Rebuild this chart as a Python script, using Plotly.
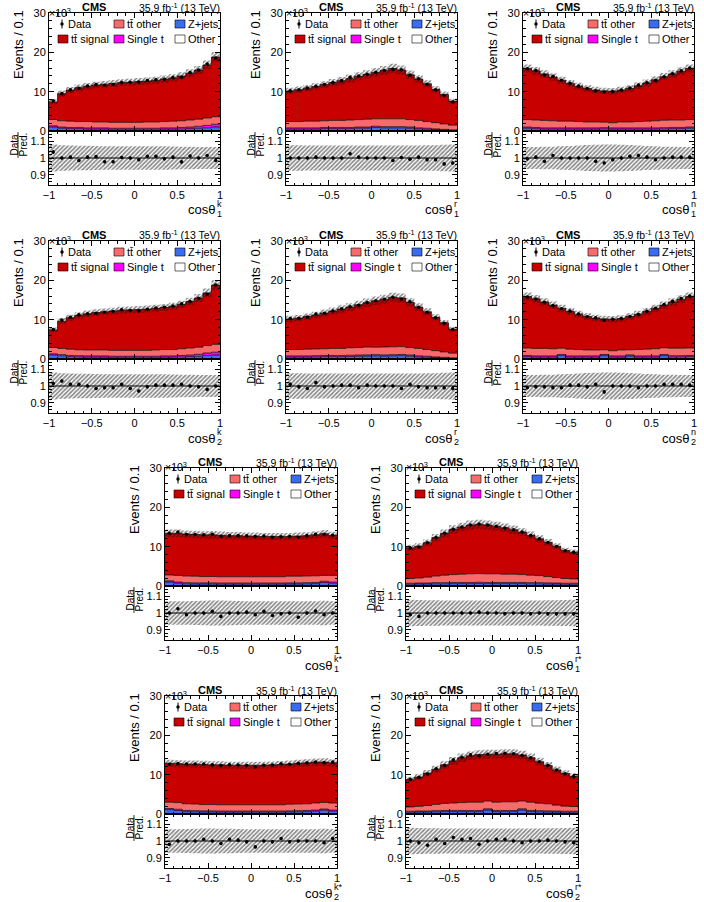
import numpy as np
import plotly.graph_objects as go

W, H = 704, 902
FONT = "Liberation Sans, Arial, Helvetica, sans-serif"

bin_edges = [-1.0, -0.9, -0.8, -0.7, -0.6, -0.5, -0.4, -0.3, -0.2, -0.1, 0.0,
             0.1, 0.2, 0.3, 0.4, 0.5, 0.6, 0.7, 0.8, 0.9, 1.0]
bin_centers = [-0.95, -0.85, -0.75, -0.65, -0.55, -0.45, -0.35, -0.25, -0.15, -0.05,
               0.05, 0.15, 0.25, 0.35, 0.45, 0.55, 0.65, 0.75, 0.85, 0.95]
x_ticks = [-1, -0.5, 0, 0.5, 1]

# ---------------- values (x10^3 events) ----------------
# cos theta_1^k
total_k1 = [7.4, 9.5, 10.4, 11.0, 11.4, 11.7, 11.9, 12.1, 12.3, 12.4, 12.6, 12.7, 12.9, 13.2, 13.5, 14.0, 14.7, 15.5, 16.8, 18.8]
ttother_k1 = [1.6, 1.6, 1.6, 1.5, 1.6, 1.5, 1.5, 1.5, 1.5, 1.5, 1.5, 1.6, 1.6, 1.6, 1.7, 1.7, 1.8, 1.8, 1.9, 1.9]
singlet_k1 = [0.30, 0.30, 0.30, 0.30, 0.30, 0.30, 0.30, 0.25, 0.25, 0.25, 0.25, 0.25, 0.25, 0.30, 0.30, 0.35, 0.40, 0.50, 0.60, 0.70]
zjets_k1 = [0.90, 0.60, 0.50, 0.50, 0.40, 0.40, 0.40, 0.35, 0.35, 0.35, 0.35, 0.35, 0.35, 0.40, 0.40, 0.45, 0.50, 0.60, 0.70, 0.90]
other_k1 = [0.12, 0.10, 0.10, 0.10, 0.10, 0.10, 0.10, 0.10, 0.10, 0.10, 0.10, 0.10, 0.10, 0.10, 0.10, 0.10, 0.10, 0.10, 0.11, 0.12]
ratio_k1 = [1.035, 1.000, 1.005, 0.985, 1.005, 1.008, 0.978, 0.978, 1.003, 1.000, 0.990, 1.010, 1.010, 0.995, 1.005, 0.977, 1.012, 1.000, 1.015, 0.985]
unc_k1 = [0.080, 0.076, 0.074, 0.073, 0.072, 0.071, 0.070, 0.070, 0.070, 0.070, 0.070, 0.070, 0.069, 0.069, 0.068, 0.067, 0.066, 0.065, 0.065, 0.065]

# cos theta_1^r
total_r1 = [10.2, 10.5, 10.9, 11.3, 11.8, 12.3, 12.8, 13.3, 13.9, 14.4, 14.9, 15.4, 15.9, 15.5, 14.3, 13.2, 12.0, 10.6, 9.3, 7.6]
ttother_r1 = [1.6, 1.6, 1.7, 1.7, 1.7, 1.8, 1.8, 1.9, 1.9, 2.0, 1.9, 2.0, 2.0, 2.0, 1.9, 1.9, 1.7, 1.6, 1.4, 1.2]
singlet_r1 = [0.30, 0.30, 0.30, 0.30, 0.30, 0.30, 0.30, 0.30, 0.30, 0.30, 0.30, 0.30, 0.30, 0.30, 0.30, 0.25, 0.25, 0.18, 0.13, 0.10]
zjets_r1 = [0.40, 0.40, 0.40, 0.40, 0.50, 0.50, 0.50, 0.50, 0.60, 0.60, 0.80, 0.70, 0.70, 0.70, 0.60, 0.45, 0.35, 0.25, 0.20, 0.12]
other_r1 = [0.10, 0.10, 0.10, 0.10, 0.10, 0.10, 0.10, 0.10, 0.10, 0.10, 0.10, 0.10, 0.10, 0.10, 0.10, 0.10, 0.10, 0.09, 0.08, 0.06]
ratio_r1 = [1.000, 1.000, 1.000, 1.005, 1.000, 1.000, 1.000, 1.025, 1.005, 1.000, 1.000, 1.000, 0.985, 1.003, 0.993, 1.005, 0.990, 0.990, 0.965, 0.970]
unc_r1 = [0.075, 0.075, 0.074, 0.074, 0.074, 0.074, 0.074, 0.074, 0.074, 0.074, 0.074, 0.074, 0.074, 0.074, 0.074, 0.074, 0.075, 0.076, 0.078, 0.080]

# cos theta_1^n
total_n1 = [15.9, 15.3, 14.5, 13.7, 12.9, 12.1, 11.4, 10.8, 10.4, 10.2, 10.1, 10.4, 10.8, 11.5, 12.2, 13.0, 13.8, 14.5, 15.2, 15.9]
ttother_n1 = [1.9, 1.9, 1.9, 1.8, 1.7, 1.7, 1.6, 1.5, 1.5, 1.4, 1.3, 1.5, 1.5, 1.6, 1.7, 1.8, 1.9, 1.9, 1.9, 1.9]
singlet_n1 = [0.30, 0.30, 0.30, 0.30, 0.30, 0.30, 0.30, 0.30, 0.30, 0.30, 0.30, 0.30, 0.30, 0.30, 0.30, 0.30, 0.30, 0.30, 0.30, 0.30]
zjets_n1 = [0.60, 0.50, 0.40, 0.40, 0.40, 0.40, 0.40, 0.40, 0.40, 0.45, 0.40, 0.40, 0.40, 0.40, 0.40, 0.40, 0.45, 0.50, 0.50, 0.60]
other_n1 = [0.10, 0.10, 0.10, 0.10, 0.10, 0.10, 0.10, 0.10, 0.10, 0.10, 0.10, 0.10, 0.10, 0.10, 0.10, 0.10, 0.10, 0.10, 0.10, 0.10]
ratio_n1 = [0.995, 1.005, 0.980, 1.015, 1.000, 1.000, 1.000, 1.000, 0.980, 0.970, 0.990, 1.000, 1.010, 1.015, 1.005, 0.990, 1.000, 1.005, 1.005, 1.005]
unc_n1 = [0.065, 0.065, 0.066, 0.067, 0.069, 0.071, 0.074, 0.077, 0.079, 0.080, 0.080, 0.079, 0.077, 0.074, 0.071, 0.069, 0.067, 0.066, 0.065, 0.065]

# cos theta_2^k
total_k2 = [7.4, 9.6, 10.5, 11.1, 11.5, 11.8, 12.0, 12.2, 12.4, 12.5, 12.6, 12.7, 12.9, 13.1, 13.4, 13.9, 14.6, 15.5, 16.8, 18.8]
ttother_k2 = [1.6, 1.6, 1.6, 1.5, 1.5, 1.5, 1.5, 1.5, 1.5, 1.5, 1.5, 1.5, 1.6, 1.6, 1.6, 1.7, 1.8, 1.8, 1.9, 2.0]
singlet_k2 = [0.30, 0.30, 0.30, 0.30, 0.30, 0.30, 0.30, 0.25, 0.25, 0.25, 0.25, 0.25, 0.25, 0.30, 0.30, 0.35, 0.40, 0.50, 0.60, 0.70]
zjets_k2 = [0.90, 0.70, 0.50, 0.45, 0.40, 0.40, 0.40, 0.35, 0.35, 0.35, 0.35, 0.35, 0.35, 0.40, 0.40, 0.45, 0.50, 0.60, 0.80, 0.90]
other_k2 = [0.12, 0.10, 0.10, 0.10, 0.10, 0.10, 0.10, 0.10, 0.10, 0.10, 0.10, 0.10, 0.10, 0.10, 0.10, 0.10, 0.10, 0.10, 0.11, 0.12]
ratio_k2 = [1.015, 1.030, 1.010, 1.010, 1.000, 0.985, 0.990, 0.990, 1.010, 0.985, 0.970, 0.995, 1.005, 1.005, 1.005, 1.010, 1.000, 0.995, 0.980, 1.000]
unc_k2 = [0.080, 0.076, 0.074, 0.073, 0.072, 0.071, 0.070, 0.070, 0.070, 0.070, 0.070, 0.070, 0.069, 0.069, 0.068, 0.067, 0.066, 0.065, 0.065, 0.065]

# cos theta_2^r
total_r2 = [10.2, 10.4, 10.8, 11.2, 11.7, 12.2, 12.7, 13.2, 13.8, 14.3, 14.8, 15.2, 15.7, 15.5, 14.4, 13.2, 12.0, 10.6, 9.2, 7.6]
ttother_r2 = [1.6, 1.6, 1.7, 1.7, 1.7, 1.8, 1.8, 1.9, 1.9, 2.0, 1.9, 2.0, 2.0, 2.0, 1.9, 1.9, 1.7, 1.6, 1.4, 1.2]
singlet_r2 = [0.30, 0.30, 0.30, 0.30, 0.30, 0.30, 0.30, 0.30, 0.30, 0.30, 0.30, 0.30, 0.30, 0.30, 0.30, 0.25, 0.25, 0.18, 0.13, 0.10]
zjets_r2 = [0.40, 0.40, 0.40, 0.45, 0.50, 0.50, 0.50, 0.55, 0.60, 0.65, 0.70, 0.65, 0.70, 0.75, 0.60, 0.45, 0.35, 0.25, 0.20, 0.12]
other_r2 = [0.10, 0.10, 0.10, 0.10, 0.10, 0.10, 0.10, 0.10, 0.10, 0.10, 0.10, 0.10, 0.10, 0.10, 0.10, 0.10, 0.10, 0.09, 0.08, 0.06]
ratio_r2 = [1.010, 0.995, 0.985, 1.020, 0.995, 1.000, 1.005, 1.005, 0.990, 1.005, 1.000, 1.000, 1.000, 0.985, 1.010, 0.995, 0.990, 0.990, 0.990, 0.985]
unc_r2 = [0.075, 0.075, 0.074, 0.074, 0.074, 0.074, 0.074, 0.074, 0.074, 0.074, 0.074, 0.074, 0.074, 0.074, 0.074, 0.074, 0.075, 0.076, 0.078, 0.080]

# cos theta_2^n
total_n2 = [15.9, 15.3, 14.5, 13.7, 12.9, 12.1, 11.4, 10.8, 10.4, 10.2, 10.1, 10.3, 10.8, 11.4, 12.1, 12.9, 13.7, 14.5, 15.2, 15.9]
ttother_n2 = [1.9, 1.9, 1.9, 1.8, 1.6, 1.7, 1.6, 1.5, 1.5, 1.2, 1.3, 1.5, 1.3, 1.6, 1.7, 1.8, 1.7, 1.9, 1.9, 1.9]
singlet_n2 = [0.30, 0.30, 0.30, 0.30, 0.30, 0.30, 0.30, 0.30, 0.30, 0.30, 0.30, 0.30, 0.30, 0.30, 0.30, 0.30, 0.30, 0.30, 0.30, 0.30]
zjets_n2 = [0.50, 0.40, 0.40, 0.40, 0.75, 0.40, 0.40, 0.40, 0.40, 0.75, 0.40, 0.40, 0.65, 0.40, 0.40, 0.40, 0.75, 0.45, 0.45, 0.50]
other_n2 = [0.10, 0.10, 0.10, 0.10, 0.10, 0.10, 0.10, 0.10, 0.10, 0.10, 0.10, 0.10, 0.10, 0.10, 0.10, 0.10, 0.10, 0.10, 0.10, 0.10]
ratio_n2 = [0.990, 0.995, 0.995, 0.990, 0.990, 1.005, 1.005, 0.995, 1.010, 0.965, 1.000, 1.000, 1.000, 0.990, 1.000, 1.000, 1.010, 1.010, 1.010, 1.005]
unc_n2 = [0.065, 0.065, 0.066, 0.067, 0.069, 0.071, 0.074, 0.077, 0.079, 0.080, 0.080, 0.079, 0.077, 0.074, 0.071, 0.069, 0.067, 0.066, 0.065, 0.065]

# cos theta_1^k*
total_ks1 = [13.4, 13.4, 13.2, 13.1, 13.0, 13.0, 12.9, 12.8, 12.8, 12.7, 12.7, 12.6, 12.6, 12.6, 12.6, 12.7, 12.8, 13.0, 13.3, 12.9]
ttother_ks1 = [1.5, 1.7, 1.7, 1.7, 1.6, 1.6, 1.6, 1.6, 1.6, 1.6, 1.6, 1.6, 1.6, 1.6, 1.7, 1.7, 1.7, 1.7, 1.5, 1.7]
singlet_ks1 = [0.30, 0.30, 0.30, 0.30, 0.30, 0.30, 0.30, 0.30, 0.30, 0.30, 0.30, 0.30, 0.30, 0.30, 0.30, 0.30, 0.30, 0.30, 0.30, 0.30]
zjets_ks1 = [0.90, 0.60, 0.45, 0.40, 0.40, 0.40, 0.35, 0.35, 0.35, 0.35, 0.35, 0.35, 0.35, 0.35, 0.40, 0.40, 0.45, 0.50, 0.80, 0.60]
other_ks1 = [0.10, 0.10, 0.10, 0.10, 0.10, 0.10, 0.10, 0.10, 0.10, 0.10, 0.10, 0.10, 0.10, 0.10, 0.10, 0.10, 0.10, 0.10, 0.10, 0.10]
ratio_ks1 = [1.000, 1.025, 0.990, 1.000, 1.000, 1.010, 0.980, 1.000, 1.000, 1.005, 0.990, 1.010, 0.985, 0.995, 1.000, 0.975, 1.000, 1.012, 0.990, 1.000]
unc_ks1 = [0.070, 0.070, 0.070, 0.071, 0.072, 0.074, 0.074, 0.072, 0.071, 0.070, 0.070, 0.070, 0.070, 0.070, 0.070, 0.070, 0.070, 0.070, 0.072, 0.070]

# cos theta_1^r*
total_rs1 = [9.7, 10.1, 11.0, 12.3, 13.4, 14.4, 15.0, 15.5, 15.7, 15.5, 15.2, 14.8, 14.3, 13.7, 12.9, 12.0, 11.1, 10.1, 9.0, 8.6]
ttother_rs1 = [1.2, 1.3, 1.5, 1.7, 1.9, 2.0, 2.1, 2.2, 2.2, 2.2, 2.2, 2.1, 2.1, 2.0, 1.9, 1.8, 1.6, 1.4, 1.2, 1.1]
singlet_rs1 = [0.25, 0.25, 0.25, 0.30, 0.30, 0.30, 0.30, 0.30, 0.30, 0.30, 0.30, 0.30, 0.30, 0.30, 0.30, 0.30, 0.30, 0.25, 0.25, 0.25]
zjets_rs1 = [0.35, 0.40, 0.40, 0.45, 0.45, 0.50, 0.50, 0.50, 0.55, 0.50, 0.50, 0.50, 0.50, 0.50, 0.45, 0.45, 0.40, 0.40, 0.35, 0.35]
other_rs1 = [0.10, 0.10, 0.10, 0.10, 0.10, 0.10, 0.10, 0.10, 0.10, 0.10, 0.10, 0.10, 0.10, 0.10, 0.10, 0.10, 0.10, 0.10, 0.10, 0.10]
ratio_rs1 = [0.990, 0.980, 1.000, 1.000, 1.000, 1.000, 1.000, 1.000, 1.005, 1.000, 1.000, 0.995, 1.000, 1.000, 0.995, 1.000, 0.995, 0.995, 0.995, 0.995]
unc_rs1 = [0.078, 0.077, 0.076, 0.075, 0.074, 0.074, 0.074, 0.074, 0.074, 0.074, 0.074, 0.074, 0.074, 0.074, 0.074, 0.074, 0.075, 0.076, 0.077, 0.078]

# cos theta_2^k*
total_ks2 = [12.9, 12.8, 12.7, 12.7, 12.6, 12.5, 12.5, 12.4, 12.4, 12.4, 12.4, 12.4, 12.5, 12.6, 12.7, 12.9, 13.0, 13.2, 13.2, 13.0]
ttother_ks2 = [1.6, 1.7, 1.7, 1.7, 1.6, 1.6, 1.6, 1.6, 1.6, 1.6, 1.6, 1.6, 1.6, 1.6, 1.7, 1.7, 1.7, 1.8, 1.7, 1.8]
singlet_ks2 = [0.30, 0.30, 0.30, 0.30, 0.30, 0.30, 0.30, 0.30, 0.30, 0.30, 0.30, 0.30, 0.30, 0.30, 0.30, 0.30, 0.30, 0.30, 0.30, 0.30]
zjets_ks2 = [1.00, 0.80, 0.50, 0.45, 0.40, 0.40, 0.35, 0.35, 0.35, 0.35, 0.35, 0.35, 0.35, 0.35, 0.40, 0.45, 0.50, 0.60, 0.85, 0.60]
other_ks2 = [0.10, 0.10, 0.10, 0.10, 0.10, 0.10, 0.10, 0.10, 0.10, 0.10, 0.10, 0.10, 0.10, 0.10, 0.10, 0.10, 0.10, 0.10, 0.10, 0.10]
ratio_ks2 = [0.980, 1.000, 1.000, 1.000, 1.010, 1.000, 0.985, 1.010, 1.005, 0.995, 0.965, 1.000, 0.995, 1.015, 0.995, 1.000, 1.000, 1.000, 0.990, 1.015]
unc_ks2 = [0.070, 0.070, 0.071, 0.072, 0.074, 0.074, 0.073, 0.072, 0.071, 0.070, 0.070, 0.070, 0.070, 0.070, 0.070, 0.070, 0.070, 0.070, 0.072, 0.070]

# cos theta_2^r*
total_rs2 = [8.8, 9.4, 10.4, 11.4, 12.5, 13.5, 14.3, 14.8, 15.1, 15.2, 15.2, 15.3, 15.3, 15.0, 14.3, 13.3, 12.3, 11.2, 10.3, 9.6]
ttother_rs2 = [1.1, 1.2, 1.4, 1.6, 1.8, 1.9, 2.0, 2.1, 2.1, 2.0, 2.1, 2.2, 2.2, 2.0, 2.1, 1.9, 1.8, 1.5, 1.3, 1.2]
singlet_rs2 = [0.25, 0.25, 0.25, 0.30, 0.30, 0.30, 0.30, 0.30, 0.30, 0.30, 0.30, 0.30, 0.30, 0.30, 0.30, 0.30, 0.30, 0.25, 0.25, 0.25]
zjets_rs2 = [0.35, 0.40, 0.40, 0.45, 0.50, 0.50, 0.50, 0.50, 0.50, 0.90, 0.50, 0.50, 0.50, 0.90, 0.50, 0.45, 0.40, 0.40, 0.35, 0.35]
other_rs2 = [0.10, 0.10, 0.10, 0.10, 0.10, 0.10, 0.10, 0.10, 0.10, 0.10, 0.10, 0.10, 0.10, 0.10, 0.10, 0.10, 0.10, 0.10, 0.10, 0.10]
ratio_rs2 = [1.000, 0.990, 0.975, 1.010, 0.985, 1.020, 1.010, 1.015, 0.980, 1.000, 1.010, 1.010, 1.000, 0.990, 1.000, 1.000, 1.005, 1.000, 0.995, 0.990]
unc_rs2 = [0.078, 0.077, 0.076, 0.075, 0.074, 0.074, 0.074, 0.074, 0.074, 0.074, 0.074, 0.074, 0.074, 0.074, 0.074, 0.074, 0.075, 0.076, 0.077, 0.078]

# ---------------- style ----------------
C_SIG = "#c80000"
C_TTO = "#f96a6a"
C_ST = "#ff00ff"
C_Z = "#3a6cf0"
C_OTH = "#ffffff"

panels = [
    dict(tot=total_k1, tto=ttother_k1, st=singlet_k1, z=zjets_k1, oth=other_k1, rat=ratio_k1, unc=unc_k1, sup="k", sub="1", L=49, R=220, T=13),
    dict(tot=total_r1, tto=ttother_r1, st=singlet_r1, z=zjets_r1, oth=other_r1, rat=ratio_r1, unc=unc_r1, sup="r", sub="1", L=286, R=457, T=13),
    dict(tot=total_n1, tto=ttother_n1, st=singlet_n1, z=zjets_n1, oth=other_n1, rat=ratio_n1, unc=unc_n1, sup="n", sub="1", L=523, R=694, T=13),
    dict(tot=total_k2, tto=ttother_k2, st=singlet_k2, z=zjets_k2, oth=other_k2, rat=ratio_k2, unc=unc_k2, sup="k", sub="2", L=49, R=220, T=241),
    dict(tot=total_r2, tto=ttother_r2, st=singlet_r2, z=zjets_r2, oth=other_r2, rat=ratio_r2, unc=unc_r2, sup="r", sub="2", L=286, R=457, T=241),
    dict(tot=total_n2, tto=ttother_n2, st=singlet_n2, z=zjets_n2, oth=other_n2, rat=ratio_n2, unc=unc_n2, sup="n", sub="2", L=523, R=694, T=241),
    dict(tot=total_ks1, tto=ttother_ks1, st=singlet_ks1, z=zjets_ks1, oth=other_ks1, rat=ratio_ks1, unc=unc_ks1, sup="k*", sub="1", L=165, R=337, T=468),
    dict(tot=total_rs1, tto=ttother_rs1, st=singlet_rs1, z=zjets_rs1, oth=other_rs1, rat=ratio_rs1, unc=unc_rs1, sup="r*", sub="1", L=406, R=578, T=468),
    dict(tot=total_ks2, tto=ttother_ks2, st=singlet_ks2, z=zjets_ks2, oth=other_ks2, rat=ratio_ks2, unc=unc_ks2, sup="k*", sub="2", L=165, R=337, T=696),
    dict(tot=total_rs2, tto=ttother_rs2, st=singlet_rs2, z=zjets_rs2, oth=other_rs2, rat=ratio_rs2, unc=unc_rs2, sup="r*", sub="2", L=406, R=578, T=696),
]

MAIN_H = 118
RAT_H = 54


def px(x):
    return x / W


def py(y):
    return 1 - y / H


def step(vals):
    v = list(vals)
    return v + [v[-1]]


HATCH = dict(shape="/", fgcolor="#111111", bgcolor="rgba(0,0,0,0)", size=3, solidity=0.55)

fig = go.Figure()
layout = dict(
    width=W, height=H, margin=dict(l=0, r=0, t=0, b=0, autoexpand=False),
    paper_bgcolor="white", plot_bgcolor="rgba(0,0,0,0)", showlegend=False,
    font=dict(family=FONT, color="black", size=11),
)
annotations = []
shapes = []

axis_common = dict(
    showline=True, linecolor="black", linewidth=1, mirror="allticks",
    ticks="inside", ticklen=5, tickwidth=1, tickcolor="black",
    showgrid=False, zeroline=False, tickfont=dict(size=11, family=FONT, color="black"),
)

for i, p in enumerate(panels):
    L, R, T = p["L"], p["R"], p["T"]
    im, ir = 2 * i + 1, 2 * i + 2
    xm, ym = ("x" if im == 1 else f"x{im}"), ("y" if im == 1 else f"y{im}")
    xr, yr = f"x{ir}", f"y{ir}"
    kxm = "xaxis" if im == 1 else f"xaxis{im}"
    kym = "yaxis" if im == 1 else f"yaxis{im}"
    kxr, kyr = f"xaxis{ir}", f"yaxis{ir}"

    tot = np.array(p["tot"])
    tto = np.array(p["tto"]); st = np.array(p["st"]); z = np.array(p["z"]); oth = np.array(p["oth"])
    sig = tot - tto - st - z - oth
    rat = np.array(p["rat"]); unc = np.array(p["unc"])
    data = tot * rat
    derr = np.sqrt(data * 1000.0) / 1000.0

    cum = np.zeros(20)
    for k, (comp, col) in enumerate([(oth, C_OTH), (z, C_Z), (st, C_ST), (tto, C_TTO), (sig, C_SIG)]):
        cum = cum + comp
        fig.add_trace(go.Scatter(
            x=bin_edges, y=step(cum), mode="lines", line=dict(shape="hv", color="black", width=0.7),
            fill="tozeroy" if k == 0 else "tonexty", fillcolor=col, xaxis=xm, yaxis=ym, hoverinfo="skip"))
    fig.add_trace(go.Scatter(x=bin_edges, y=step(tot * (1 - unc)), mode="lines",
                             line=dict(shape="hv", width=0, color="rgba(0,0,0,0)"), xaxis=xm, yaxis=ym, hoverinfo="skip"))
    fig.add_trace(go.Scatter(x=bin_edges, y=step(tot * (1 + unc)), mode="lines",
                             line=dict(shape="hv", width=0, color="rgba(0,0,0,0)"), fill="tonexty",
                             fillcolor="rgba(0,0,0,0)", fillpattern=HATCH, xaxis=xm, yaxis=ym, hoverinfo="skip"))
    fig.add_trace(go.Scatter(x=bin_centers, y=data, mode="markers",
                             marker=dict(size=3.6, color="black"),
                             error_y=dict(type="data", array=derr, thickness=1, width=0, color="black"),
                             xaxis=xm, yaxis=ym, hoverinfo="skip"))

    fig.add_trace(go.Scatter(x=bin_edges, y=step(1 - unc), mode="lines",
                             line=dict(shape="hv", width=0, color="rgba(0,0,0,0)"), xaxis=xr, yaxis=yr, hoverinfo="skip"))
    fig.add_trace(go.Scatter(x=bin_edges, y=step(1 + unc), mode="lines",
                             line=dict(shape="hv", width=0, color="rgba(0,0,0,0)"), fill="tonexty",
                             fillcolor="rgba(0,0,0,0)", fillpattern=HATCH, xaxis=xr, yaxis=yr, hoverinfo="skip"))
    fig.add_trace(go.Scatter(x=[bin_edges[0], bin_edges[-1]], y=[1, 1], mode="lines",
                             line=dict(color="black", width=1), xaxis=xr, yaxis=yr, hoverinfo="skip"))
    fig.add_trace(go.Scatter(x=bin_centers, y=rat, mode="markers",
                             marker=dict(size=3.6, color="black"),
                             error_y=dict(type="data", array=derr / tot, thickness=1, width=0, color="black"),
                             xaxis=xr, yaxis=yr, hoverinfo="skip"))

    layout[kxm] = dict(axis_common, domain=[px(L), px(R)], range=[-1, 1], anchor=ym,
                       showticklabels=False, tick0=0, dtick=0.5,
                       minor=dict(ticks="inside", ticklen=2.5, tick0=0, dtick=0.1, tickcolor="black"))
    layout[kym] = dict(axis_common, domain=[py(T + MAIN_H), py(T)], range=[0, 30], anchor=xm,
                       tick0=0, dtick=10,
                       minor=dict(ticks="inside", ticklen=2.5, tick0=0, dtick=2, tickcolor="black"))
    layout[kxr] = dict(axis_common, domain=[px(L), px(R)], range=[-1, 1], anchor=yr,
                       tickvals=x_ticks, ticktext=["\u22121", "\u22120.5", "0", "0.5", "1"],
                       minor=dict(ticks="inside", ticklen=2.5, tick0=0, dtick=0.1, tickcolor="black"))
    layout[kyr] = dict(axis_common, domain=[py(T + MAIN_H + RAT_H), py(T + MAIN_H)], range=[0.84, 1.16],
                       anchor=xr, tickvals=[0.9, 1.0, 1.1], ticktext=["0.9", "1", "1.1"],
                       minor=dict(ticks="inside", ticklen=2.5, tick0=0.8, dtick=0.02, tickcolor="black"))

    def ann(text, x, y, size, xa="left", ya="middle", angle=0):
        annotations.append(dict(text=text, x=px(x), y=py(y), xref="paper", yref="paper",
                                xanchor=xa, yanchor=ya, showarrow=False, textangle=angle,
                                borderpad=0,
                                font=dict(size=size, family=FONT, color="black")))

    ann("\u00d710<sup>3</sup>", L - 1, T - 1, 10.5)
    ann("<b>CMS</b>", L + 45, T - 6, 11, xa="center")
    ann("35.9 fb<sup>-1</sup> (13 TeV)", R + 1, T - 6, 10.5, xa="right")
    ann("Events / 0.1", L - 31, T + 32, 13, xa="center", angle=-90)
    ann("Data", L - 35.5, T + 132, 10, xa="center", angle=-90)
    ann("Pred.", L - 26.5, T + 132, 10, xa="center", angle=-90)
    shapes.append(dict(type="line", xref="paper", yref="paper", x0=px(L - 31), x1=px(L - 31),
                       y0=py(T + 119), y1=py(T + 145), line=dict(color="black", width=0.8)))
    ann("cos\u03b8", R - 4, T + 197, 13, xa="right")
    ann(p["sup"], R - 4, T + 191, 9)
    ann(p["sub"], R - 4, T + 201, 9)

    r1, r2 = T + 11, T + 26
    shapes.append(dict(type="line", xref="paper", yref="paper", x0=px(L + 13), x1=px(L + 13),
                       y0=py(r1 - 4.5), y1=py(r1 + 4.5), line=dict(color="black", width=1)))
    shapes.append(dict(type="circle", xref="paper", yref="paper", x0=px(L + 11.3), x1=px(L + 14.7),
                       y0=py(r1 - 1.7), y1=py(r1 + 1.7), fillcolor="black", line=dict(width=0)))
    ann("Data", L + 18, r1, 11)
    sw = [(L + 9, r2, C_SIG, "t\u0074\u0304 signal", L + 21),
          (L + 65, r1, C_TTO, "t\u0074\u0304 other", L + 77),
          (L + 65, r2, C_ST, "Single t", L + 77),
          (L + 126, r1, C_Z, "Z+jets", L + 138),
          (L + 126, r2, C_OTH, "Other", L + 138)]
    for x0, yc, col, lab, xt in sw:
        shapes.append(dict(type="rect", xref="paper", yref="paper", x0=px(x0), x1=px(x0 + 10),
                           y0=py(yc - 4), y1=py(yc + 4), fillcolor=col, line=dict(color="black", width=0.6)))
        ann(lab, xt, yc, 11)

layout["annotations"] = annotations
layout["shapes"] = shapes
fig.update_layout(**layout)
fig.write_html("out.html")
